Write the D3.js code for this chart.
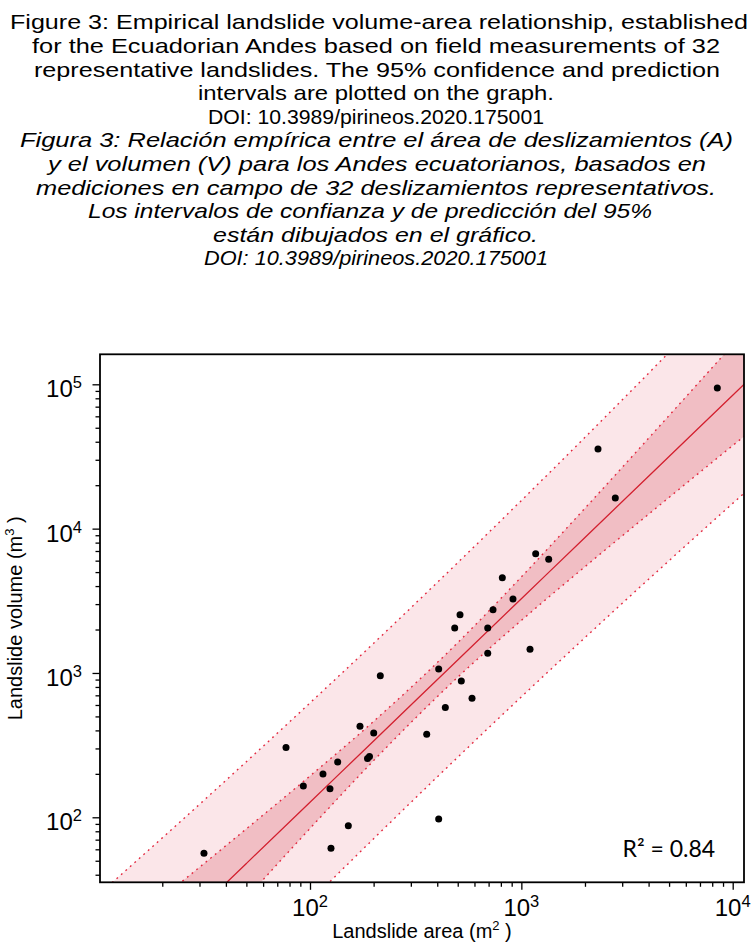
<!DOCTYPE html>
<html>
<head>
<meta charset="utf-8">
<script src="https://cdn.jsdelivr.net/npm/d3@7"></script>
<style>
  html, body { margin: 0; padding: 0; background: #fff; }
  svg { display: block; }
</style>
</head>
<body>
<svg id="chart" width="753" height="945"></svg>
<script>
// ---------- data ----------
const titleLinesEn = [
  "Figure 3: Empirical landslide volume-area relationship, established",
  "for the Ecuadorian Andes based on field measurements of 32",
  "representative landslides. The 95% confidence and prediction",
  "intervals are plotted on the graph.",
  "DOI: 10.3989/pirineos.2020.175001"
];
const titleLinesEs = [
  "Figura 3: Relación empírica entre el área de deslizamientos (A)",
  "y el volumen (V) para los Andes ecuatorianos, basados en",
  "mediciones en campo de 32 deslizamientos representativos.",
  "Los intervalos de confianza y de predicción del 95%",
  "están dibujados en el gráfico.",
  "DOI: 10.3989/pirineos.2020.175001"
];

// landslide area (m²) and volume (m³) of the 32 measured landslides
const areas = [31.5, 77.0, 93.0, 115.2, 124.3, 135.2, 151.8, 125.7, 172.4, 191.2,
               187.1, 200.2, 215.1, 356.6, 406.3, 406.3, 436.8, 483.8, 512.6, 519.9,
               584.2, 693.2, 693.2, 734.4, 812.7, 912.9, 1099, 1169, 1347, 2305,
               2783, 8456];
const volumes = [56.3, 305, 164.8, 199.5, 157.8, 241.6, 87.5, 61.0, 427, 263.8,
                 255.5, 383.8, 957, 376.0, 1065, 97.3, 576.6, 2049, 2533, 880,
                 667.6, 2049, 1369, 2744, 4572, 3254, 1459, 6706, 6133, 35620,
                 16310, 94300];

// fitted line and 95% bands, sampled along the area axis
const bandArea = [10, 20, 50, 100, 200, 500, 1000, 2000, 5000, 10000, 12600];
const fitV     = [4.950, 13.15, 47.87, 127.2, 337.9, 1231, 3270, 8684, 31620, 84070, 116300];
const confLo   = [2.012, 6.231, 27.55, 83.7, 247.1, 934.1, 2311, 5447, 16450, 37640, 49490];
const confHi   = [12.18, 27.77, 83.2, 193.4, 461.9, 1622, 4628, 13846, 60760, 187700, 273300];
const predLo   = [0.841, 2.402, 9.436, 26.12, 71.06, 260.7, 682.9, 1758, 6003, 14960, 20210];
const predHi   = [29.15, 72.0, 243.0, 620.0, 1606, 5812, 15660, 42890, 166500, 472300, 669400];

const xMajor = [100, 1000, 10000];
const yMajor = [100, 1000, 10000, 100000];
const xExp = ["2", "3", "4"];
const yExp = ["2", "3", "4", "5"];
const r2Label = "R² = 0.84";
const xTitle = "Landslide area (m";
const xTitleSup = "2";
const yTitle = "Landslide volume (m";
const yTitleSup = "3";

// ---------- layout ----------
const svg = d3.select("#chart");
const L = 100, R = 744, T = 354.3, B = 882.3;

const x = d3.scaleLog().domain([10.148, 11310]).range([L, R]);
const y = d3.scaleLog().domain([35.45, 161400]).range([B, T]);

// titles (line centres and widths measured on the reference)
const titleCx = [379, 376, 377, 376, 376, 376.5, 377, 376, 370, 375.5, 376];
const titleW  = [738, 688, 686, 356, 336, 713, 658, 680, 564, 325, 344];
const tg = svg.append("g").attr("font-family", "'Liberation Sans', Arial, sans-serif")
  .attr("font-size", 20.6).attr("fill", "#000").attr("text-anchor", "middle");
titleLinesEn.concat(titleLinesEs).forEach((s, i) => {
  tg.append("text").attr("x", titleCx[i]).attr("y", 29.3 + 23.6 * i)
    .attr("font-style", i >= 5 ? "italic" : "normal")
    .attr("textLength", titleW[i]).attr("lengthAdjust", "spacingAndGlyphs")
    .text(s);
});

// clip
svg.append("clipPath").attr("id", "plotclip")
  .append("rect").attr("x", L).attr("y", T).attr("width", R - L).attr("height", B - T);

const pg = svg.append("g").attr("clip-path", "url(#plotclip)");
const idx = d3.range(bandArea.length);

const areaGen = (lo, hi) => d3.area()
  .x(i => x(bandArea[i])).y0(i => y(lo[i])).y1(i => y(hi[i]))
  .curve(d3.curveMonotoneX);
const lineGen = (vals) => d3.line()
  .x(i => x(bandArea[i])).y(i => y(vals[i])).curve(d3.curveMonotoneX);

pg.append("path").attr("d", areaGen(predLo, predHi)(idx)).attr("fill", "#fbe6e9");
pg.append("path").attr("d", areaGen(confLo, confHi)(idx)).attr("fill", "#f1bec4");

[predLo, predHi, confLo, confHi].forEach(v => {
  pg.append("path").attr("d", lineGen(v)(idx)).attr("fill", "none")
    .attr("stroke", "#e3283f").attr("stroke-width", 1.4)
    .attr("stroke-dasharray", "1.8,4.2");
});
pg.append("path").attr("d", lineGen(fitV)(idx)).attr("fill", "none")
  .attr("stroke", "#d3202f").attr("stroke-width", 1.3);

// points
pg.selectAll("circle.pt").data(d3.range(areas.length)).join("circle")
  .attr("class", "pt")
  .attr("cx", i => x(areas[i])).attr("cy", i => y(volumes[i]))
  .attr("r", 3.5).attr("fill", "#000");

// axes
const xAxis = d3.axisBottom(x).tickValues(
  x.ticks().filter(v => !xMajor.includes(v))).tickSize(4.5).tickFormat("");
const xAxisMajor = d3.axisBottom(x).tickValues(xMajor).tickSize(7.5).tickFormat("");
const yAxis = d3.axisLeft(y).tickValues(
  y.ticks().filter(v => !yMajor.includes(v))).tickSize(4.5).tickFormat("");
const yAxisMajor = d3.axisLeft(y).tickValues(yMajor).tickSize(7.5).tickFormat("");

function styleAxis(g) {
  g.select(".domain").remove();
  g.selectAll(".tick line").attr("stroke", "#000").attr("stroke-width", 1.3);
}
svg.append("g").attr("transform", `translate(0,${B})`).call(xAxis).call(styleAxis);
svg.append("g").attr("transform", `translate(0,${B})`).call(xAxisMajor).call(styleAxis);
svg.append("g").attr("transform", `translate(${L},0)`).call(yAxis).call(styleAxis);
svg.append("g").attr("transform", `translate(${L},0)`).call(yAxisMajor).call(styleAxis);

// frame
svg.append("rect").attr("x", L).attr("y", T).attr("width", R - L).attr("height", B - T)
  .attr("fill", "none").attr("stroke", "#000").attr("stroke-width", 1.8);

// tick labels
const lf = "'Liberation Sans', Arial, sans-serif";
xMajor.forEach((v, i) => {
  const t = svg.append("text").attr("x", x(v)).attr("y", 916)
    .attr("font-family", lf).attr("font-size", 24).attr("text-anchor", "middle");
  t.append("tspan").text("10");
  t.append("tspan").attr("font-size", 16.5).attr("dy", -9).text(xExp[i]);
});
yMajor.forEach((v, i) => {
  const t = svg.append("text").attr("x", 82).attr("y", y(v) + 13)
    .attr("font-family", lf).attr("font-size", 24).attr("text-anchor", "end");
  t.append("tspan").text("10");
  t.append("tspan").attr("font-size", 16.5).attr("dy", -9).text(yExp[i]);
});

// axis titles
const xt = svg.append("text").attr("x", (L + R) / 2).attr("y", 937.5)
  .attr("font-family", lf).attr("font-size", 20).attr("text-anchor", "middle");
xt.append("tspan").text(xTitle);
xt.append("tspan").attr("font-size", 13).attr("dy", -8).text(xTitleSup);
xt.append("tspan").attr("dy", 8).text(" )");

const yt = svg.append("text").attr("transform", `translate(22,${(T + B) / 2}) rotate(-90)`)
  .attr("font-family", lf).attr("font-size", 20).attr("text-anchor", "middle");
yt.append("tspan").text(yTitle);
yt.append("tspan").attr("font-size", 13).attr("dy", -8).text(yTitleSup);
yt.append("tspan").attr("dy", 8).text(" )");

// R² label
svg.append("text").attr("x", 622.5).attr("y", 856.7)
  .attr("font-family", "Lato, 'Open Sans', sans-serif").attr("font-size", 23)
  .attr("fill", "#000").text(r2Label);
</script>
</body>
</html>
